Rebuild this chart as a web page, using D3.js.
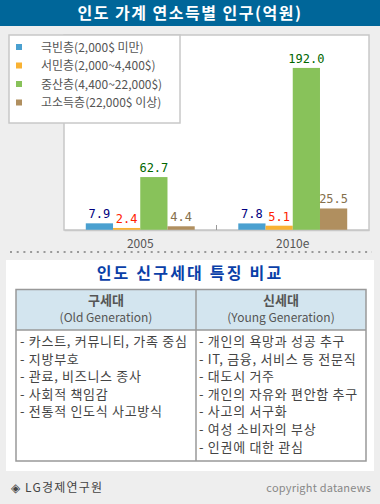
<!DOCTYPE html>
<html>
<head>
<meta charset="utf-8">
<script src="https://cdn.jsdelivr.net/npm/d3@7"></script>
<style>
  body { margin: 0; background: #eeeeee; }
  svg { display: block; }
</style>
</head>
<body>
<script>
const width = 380
const height = 504

const years = ["2005", "2010e"];
const series = ["극빈층(2,000$ 미만)", "서민층(2,000~4,400$)", "중산층(4,400~22,000$)", "고소득층(22,000$ 이상)"];
const poor = [7.9, 7.8];
const lower = [2.4, 5.1];
const middle = [62.7, 192.0];
const upper = [4.4, 25.5];
const barColors = ["#4aa0d0", "#f9b233", "#88c25a", "#b08f5f"];
const labelColors = ["#000080", "#ff2200", "#006600", "#85704c"];

const oldHead = ["구세대", "(Old Generation)"];
const youngHead = ["신세대", "(Young Generation)"];
const oldItems = ["- 카스트, 커뮤니티, 가족 중심", "- 지방부호", "- 관료, 비즈니스 종사", "- 사회적 책임감", "- 전통적 인도식 사고방식"];
const youngItems = ["- 개인의 욕망과 성공 추구", "- IT, 금융, 서비스 등 전문직", "- 대도시 거주", "- 개인의 자유와 편안함 추구", "- 사고의 서구화", "- 여성 소비자의 부상", "- 인권에 대한 관심"];

const kr = "'Noto Sans CJK KR', 'Noto Sans', sans-serif";
const mono = "'DejaVu Sans Mono', monospace";

const values = [poor, lower, middle, upper];
const rows = years.map((y, i) => ({year: y, vals: values.map(v => v[i])}));

const svg = d3.create("svg")
  .attr("width", width)
  .attr("height", height)
  .attr("viewBox", [0, 0, width, height]);

svg.append("rect").attr("width", width).attr("height", height).attr("fill", "#eeeeee");

// title bar
svg.append("rect").attr("width", width).attr("height", 26).attr("fill", "#006699");
svg.append("text")
  .attr("x", width / 2).attr("y", 18.5)
  .attr("text-anchor", "middle")
  .style("font", `bold 16px ${kr}`)
  .style("letter-spacing", "1.5px")
  .attr("fill", "white")
  .text("인도 가계 연소득별 인구(억원)");

// plot area
const plot = {left: 64, right: 369, top: 35, bottom: 230};

svg.append("rect")
  .attr("x", plot.left).attr("y", plot.top)
  .attr("width", plot.right - plot.left).attr("height", plot.bottom - plot.top)
  .attr("fill", "white").attr("stroke", "#c8c8c8").attr("stroke-width", 1.5);

const x = d3.scaleBand().domain(years).range([plot.left, plot.right]);
const xs = d3.scaleBand().domain(d3.range(series.length)).range([0, x.bandwidth()])
  .paddingInner(0).paddingOuter(0.8);
const y = d3.scaleLinear().domain([0, 231]).range([plot.bottom, plot.top]);

const g = svg.append("g")
  .selectAll("g")
  .data(rows)
  .join("g")
  .attr("transform", d => `translate(${x(d.year)},0)`);

g.selectAll("rect")
  .data(d => d.vals)
  .join("rect")
  .attr("x", (d, i) => xs(i))
  .attr("y", d => y(d))
  .attr("width", xs.bandwidth())
  .attr("height", d => plot.bottom - y(d))
  .attr("fill", (d, i) => barColors[i]);

g.selectAll("text")
  .data(d => d.vals)
  .join("text")
  .attr("x", (d, i) => xs(i) + xs.bandwidth() / 2)
  .attr("y", d => y(d) - 5)
  .attr("text-anchor", "middle")
  .style("font", `12px ${mono}`)
  .attr("fill", (d, i) => labelColors[i])
  .text(d => d.toFixed(1));

// x axis
const axis = svg.append("g")
  .attr("transform", `translate(0,${plot.bottom})`)
  .call(d3.axisBottom(x).tickSize(0).tickPadding(9));
axis.select(".domain").attr("stroke", "#c8c8c8").attr("stroke-width", 1.5);
axis.selectAll("text").style("font", `12px ${kr}`).attr("fill", "#555");

svg.append("line")
  .attr("x1", x("2010e")).attr("x2", x("2010e"))
  .attr("y1", plot.bottom - 5).attr("y2", plot.bottom)
  .attr("stroke", "#999");

// legend
svg.append("rect")
  .attr("x", 9).attr("y", 35).attr("width", 171).attr("height", 88)
  .attr("fill", "white").attr("stroke", "#c8c8c8").attr("stroke-width", 1.5);

const legend = svg.append("g")
  .selectAll("g")
  .data(series)
  .join("g")
  .attr("transform", (d, i) => `translate(16,${47 + i * 18.5})`);

legend.append("rect")
  .attr("x", 0).attr("y", -3).attr("width", 6).attr("height", 6)
  .attr("fill", (d, i) => barColors[i]);

legend.append("text")
  .attr("x", 25).attr("y", 4.5)
  .style("font", `12px ${kr}`)
  .attr("fill", "#555")
  .text(d => d);

// dotted separator
svg.append("line")
  .attr("x1", 10).attr("x2", 372)
  .attr("y1", 252).attr("y2", 252)
  .attr("stroke", "#999").attr("stroke-width", 2)
  .attr("stroke-dasharray", "2 4.7");

// lower panel
svg.append("rect")
  .attr("x", 6).attr("y", 260).attr("width", 368).attr("height", 211)
  .attr("fill", "white");

svg.append("text")
  .attr("x", width / 2).attr("y", 279)
  .attr("text-anchor", "middle")
  .style("font", `bold 16px ${kr}`)
  .style("letter-spacing", "2.2px")
  .attr("fill", "#0a3fa8")
  .text("인도 신구세대 특징 비교");

const tbl = {left: 16, mid: 196, right: 366, top: 289.5, head: 330, bottom: 461};

svg.append("rect")
  .attr("x", tbl.left).attr("y", tbl.top)
  .attr("width", tbl.right - tbl.left).attr("height", tbl.head - tbl.top)
  .attr("fill", "#d3e5ef");

svg.append("rect")
  .attr("x", tbl.left).attr("y", tbl.top)
  .attr("width", tbl.right - tbl.left).attr("height", tbl.bottom - tbl.top)
  .attr("fill", "none").attr("stroke", "#999").attr("stroke-width", 1.5);

svg.append("line")
  .attr("x1", tbl.left).attr("x2", tbl.right).attr("y1", tbl.head).attr("y2", tbl.head)
  .attr("stroke", "#999").attr("stroke-width", 1.5);
svg.append("line")
  .attr("x1", tbl.mid).attr("x2", tbl.mid).attr("y1", tbl.top).attr("y2", tbl.bottom)
  .attr("stroke", "#999").attr("stroke-width", 1.5);

const cols = [
  {cx: (tbl.left + tbl.mid) / 2, tx: 20, head: oldHead, items: oldItems},
  {cx: (tbl.mid + tbl.right) / 2, tx: 199, head: youngHead, items: youngItems}
];

cols.forEach(c => {
  svg.append("text")
    .attr("x", c.cx).attr("y", 305)
    .attr("text-anchor", "middle")
    .style("font", `bold 13px ${kr}`)
    .attr("fill", "#555")
    .text(c.head[0]);
  svg.append("text")
    .attr("x", c.cx).attr("y", 322)
    .attr("text-anchor", "middle")
    .style("font", `12px ${kr}`)
    .attr("fill", "#555")
    .text(c.head[1]);
  svg.append("g")
    .selectAll("text")
    .data(c.items)
    .join("text")
    .attr("x", c.tx)
    .attr("y", (d, i) => 346 + i * 17.6)
    .style("font", `13px ${kr}`)
    .style("letter-spacing", "0.7px")
    .attr("fill", "#444")
    .text(d => d);
});

// footer
svg.append("text")
  .attr("x", 11).attr("y", 492)
  .style("font", `12px ${kr}`)
  .style("letter-spacing", "1.2px")
  .attr("fill", "#444")
  .text("◈ LG경제연구원");

svg.append("text")
  .attr("x", 371).attr("y", 492)
  .attr("text-anchor", "end")
  .style("font", `11px ${kr}`)
  .style("letter-spacing", "0.2px")
  .attr("fill", "#888")
  .text("copyright datanews");

document.body.append(svg.node());
</script>
</body>
</html>
